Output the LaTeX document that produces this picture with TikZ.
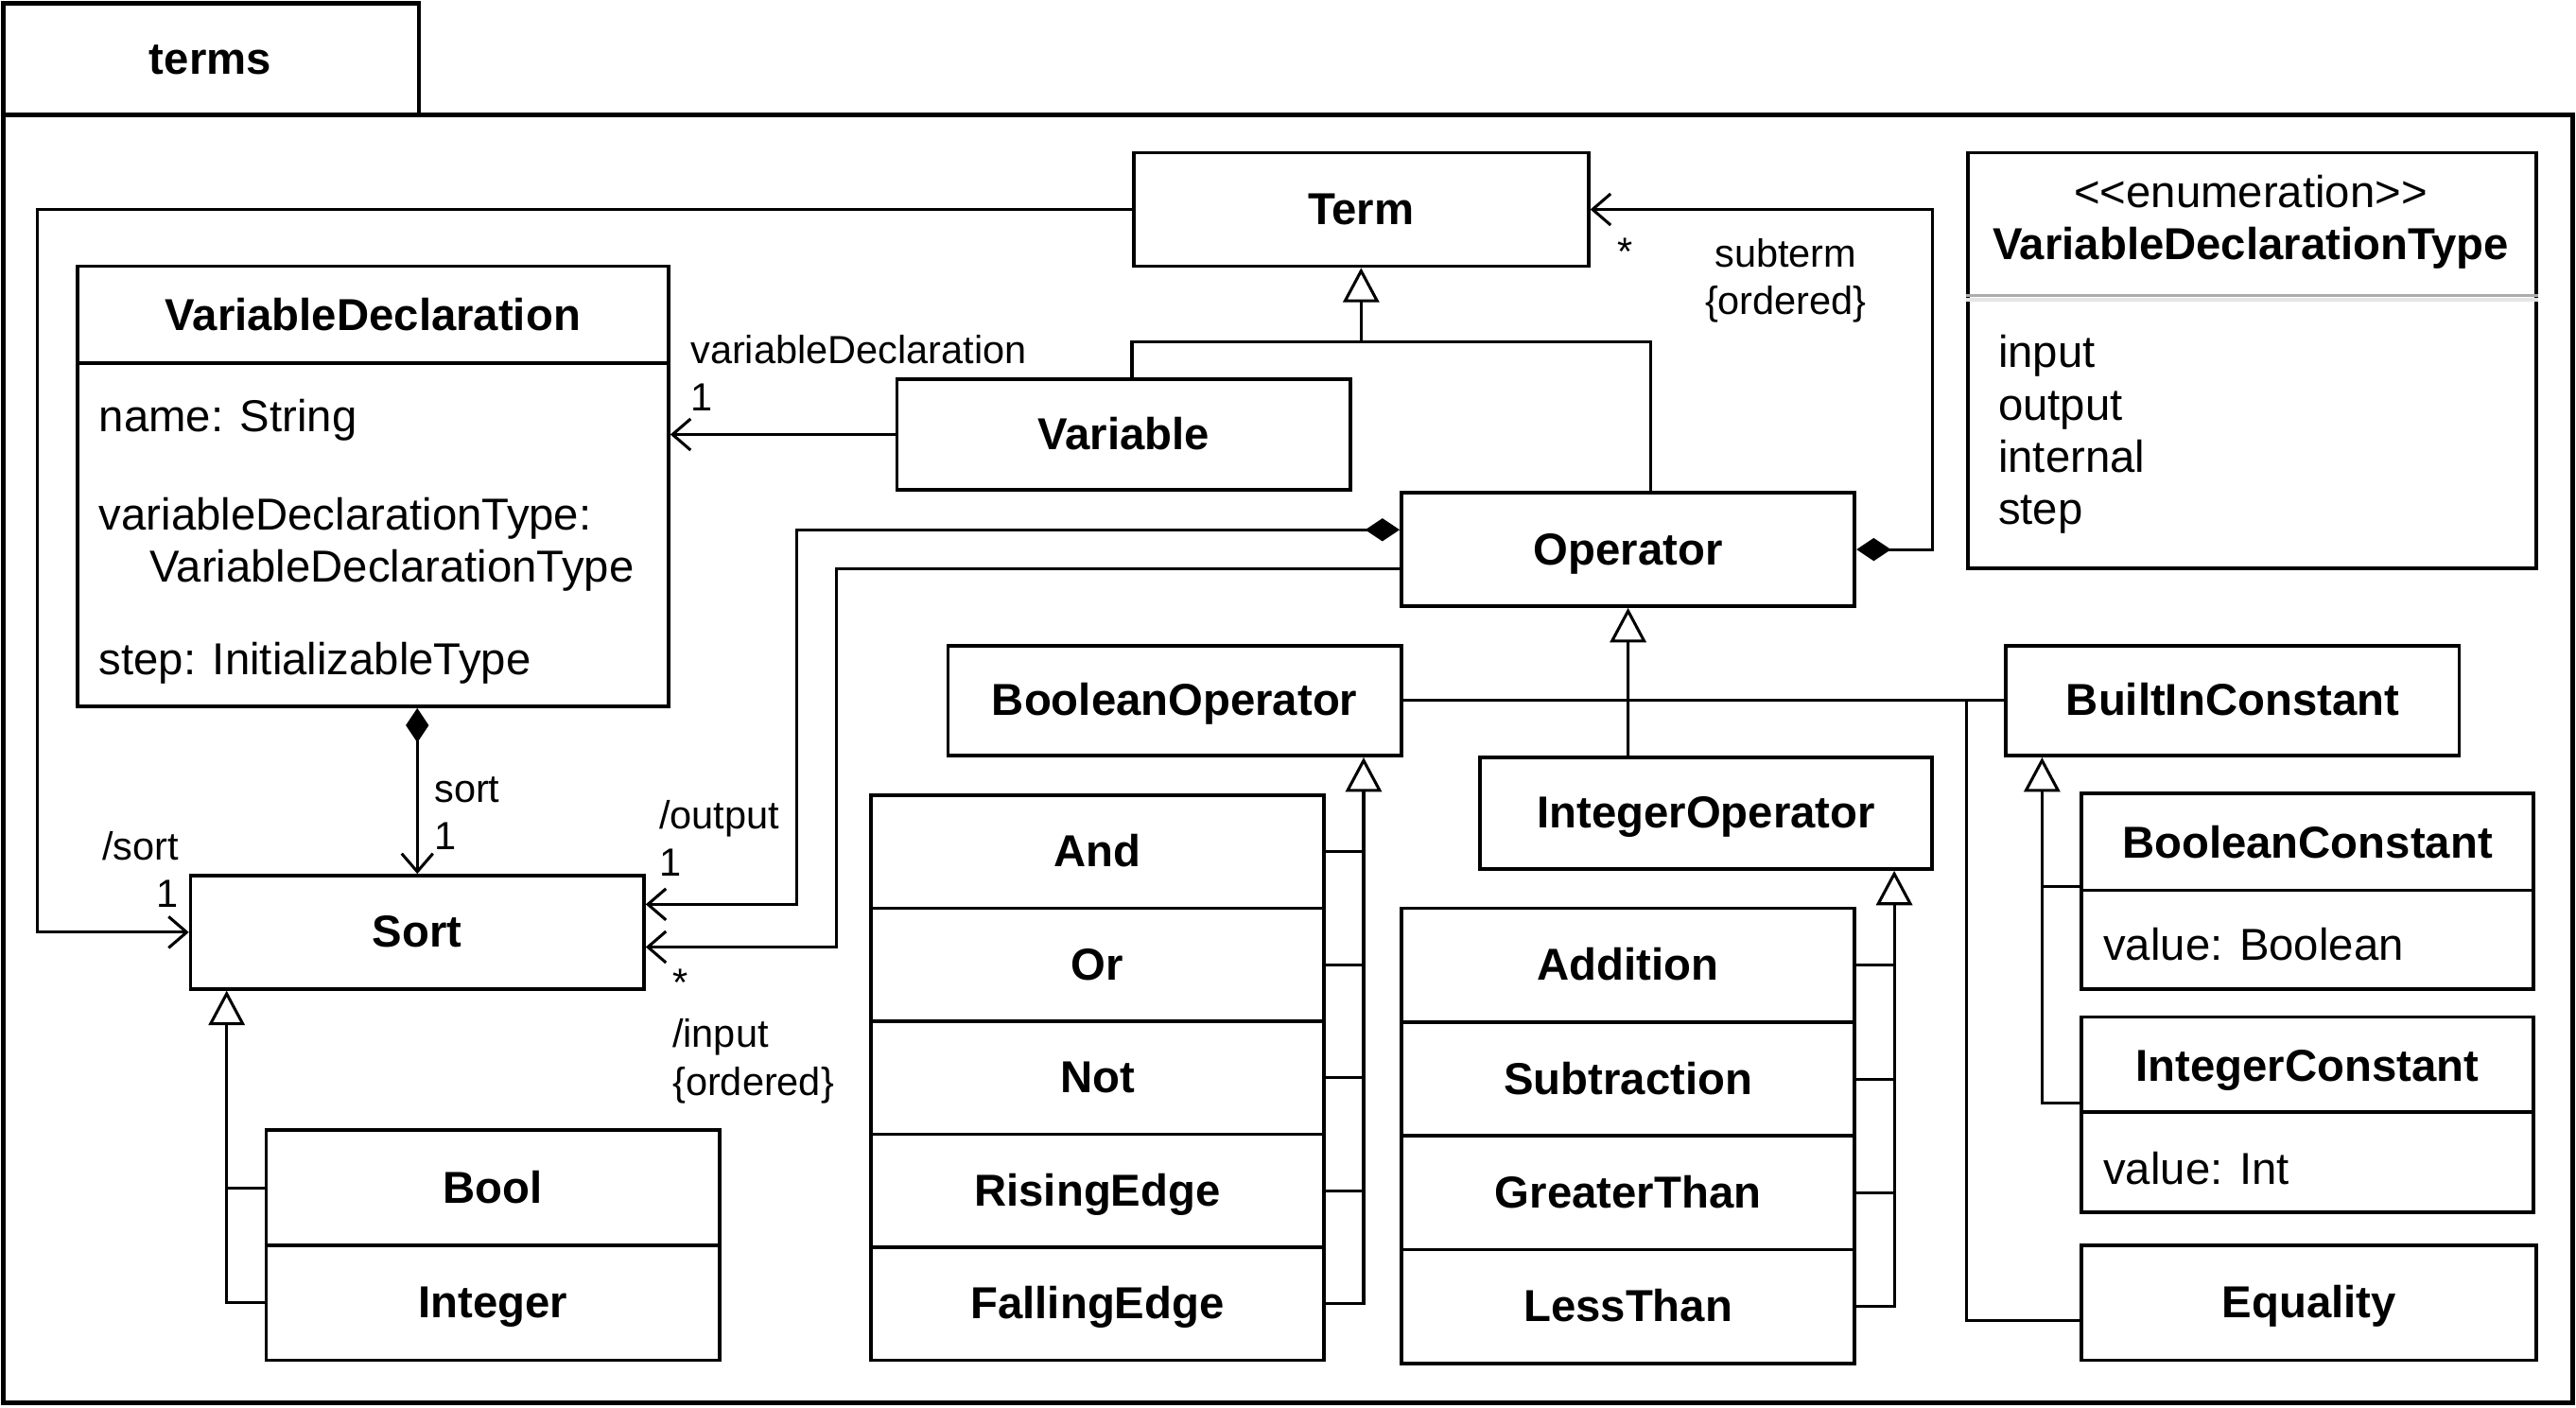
\documentclass[tikz,border=0pt]{standalone}
\usepackage{fontspec}
\setmainfont{Liberation Sans}
\usetikzlibrary{arrows.meta}

\begin{document}
\begin{tikzpicture}[
		x=0.02cm, y=-0.02cm,
		font=\fontsize{15.5pt}{18.1pt}\selectfont,
		cls/.style={draw, line width=1.2pt, fill=white, font=\fontsize{15.5pt}{18.1pt}\selectfont\bfseries, text height=13.6pt, text depth=3.1pt, minimum width=5.52cm, minimum height=1.36cm, inner sep=0pt},
		title/.style={font=\fontsize{15.5pt}{18.1pt}\selectfont\bfseries, text height=13.6pt, text depth=3.1pt},
		attr/.style={anchor=west, align=left, inner sep=0pt},
		lbl/.style={font=\fontsize{13.6pt}{16.4pt}\selectfont, inner sep=0pt},
		con/.style={line width=1pt},
		gen/.style={con, -{Triangle[open, fill=white, length=0.42cm, width=0.44cm]}},
		assoc/.style={con, -{Straight Barb[length=0.22cm, width=0.38cm]}},
		compo/.style={con, {Diamond[length=0.42cm, width=0.28cm]}-{Straight Barb[length=0.22cm, width=0.38cm]}}
	]
	\useasboundingbox (0,0) rectangle (1568,857);

	% package frame
	\draw[line width=1.5pt] (2,2) rectangle (255,70);
	\node[title] (pkgname) at (128,36) {terms};
	\draw[line width=1.5pt] (2,70) rectangle (1566,854);

	\node[cls, minimum width=5.54cm, minimum height=1.38cm] (term) at (828.5,127.5) {Term};
	\node[cls, minimum height=1.34cm] (variable) at (684,264.5) {Variable};
	\node[cls, minimum height=1.38cm] (operator) at (991,334.5) {Operator};

	% VariableDeclaration
	\node[cls, minimum width=7.2cm, minimum height=5.36cm] (vardecl) at (227,296) {};
	\node[title] (vardecltitle) at (227,192) {VariableDeclaration};
	\draw[line width=1.2pt] ([yshift=-1.2cm]vardecl.north west) -- ([yshift=-1.2cm]vardecl.north east);
	\node[attr] (vdname) at (60,255.5) {name: String};
	\node[attr] (vdtype) at (60,331.5) {variableDeclarationType:\\\hspace*{0.62cm}VariableDeclarationType};
	\node[attr] (vdstep) at (60,403.5) {step: InitializableType};

	% enumeration
	\node[cls, minimum width=6.92cm, minimum height=5.06cm] (vdtypeenum) at (1371,219.5) {};
	\node[align=center] (enumtitle) at (1370,135) {<\kern0pt<enumeration>\kern0pt>\\\textbf{VariableDeclarationType}};
	\draw[gray!20, line width=1.6pt] ([yshift=-1.81cm]vdtypeenum.north west) -- ([yshift=-1.81cm]vdtypeenum.north east);
	\draw[gray!65, line width=1.2pt] ([yshift=-1.76cm]vdtypeenum.north west) -- ([yshift=-1.76cm]vdtypeenum.north east);
	\node[attr] (enumitems) at (1216,264.5) {input\\output\\internal\\step};

	\node[cls, minimum height=1.34cm] (boolop) at (715,426.5) {BooleanOperator};
	\node[cls, minimum width=5.5cm] (intop) at (1038.5,495) {IntegerOperator};
	\node[cls, minimum height=1.34cm] (builtin) at (1359,426.5) {BuiltInConstant};
	\node[cls, minimum height=1.38cm] (sort) at (254,567.5) {Sort};
	\node[cls, minimum height=1.4cm] (bool) at (300,723) {Bool};
	\node[cls, minimum height=1.4cm] (integer) at (300,793) {Integer};

	\foreach \n/\t [count=\i from 0] in {and/And, or/Or, not/Not, risingedge/RisingEdge, fallingedge/FallingEdge}
		\node[cls, minimum height=1.376cm] (\n) at (668,518.4+68.8*\i) {\t};
	\foreach \n/\t [count=\i from 0] in {addition/Addition, subtraction/Subtraction, greaterthan/GreaterThan, lessthan/LessThan}
		\node[cls, minimum height=1.385cm] (\n) at (991,587.6+69.25*\i) {\t};

	% constants
	\node[cls, minimum width=5.5cm, minimum height=2.38cm] (boolconst) at (1404.5,542.5) {};
	\node[title] (boolconsttitle) at (1404.5,513) {BooleanConstant};
	\draw[line width=1.2pt] ([yshift=-1.2cm]boolconst.north west) -- ([yshift=-1.2cm]boolconst.north east);
	\node[attr] (boolconstvalue) at (1280,575) {value: Boolean};
	\node[cls, minimum width=5.5cm, minimum height=2.38cm] (intconst) at (1404.5,678.5) {};
	\node[title] (intconsttitle) at (1404.5,649) {IntegerConstant};
	\draw[line width=1.2pt] ([yshift=-1.18cm]intconst.north west) -- ([yshift=-1.18cm]intconst.north east);
	\node[attr] (intconstvalue) at (1280,711) {value: Int};
	\node[cls, minimum width=5.54cm, minimum height=1.4cm] (equality) at (1405.5,793) {Equality};

	% generalizations
	\draw[gen] ([xshift=0.1cm]variable.north) |- ([yshift=-0.9cm]term.south) -- (term.south);
	\draw[con] ([xshift=0.28cm]operator.north) |- ([yshift=-0.9cm]term.south);
	\draw[gen] ([xshift=-0.95cm]intop.north) -- (operator.south);
	\draw[con] (boolop.east) -- (builtin.west);
	\draw[con] ([yshift=-0.22cm]equality.west) -| ([xshift=-0.46cm]builtin.west);
	\draw[gen] (integer.west) -| ([xshift=0.46cm]sort.south west);
	\draw[con] (bool.west) -- ++(-0.46cm,0);
	\draw[gen] (fallingedge.east) -| ([xshift=-0.48cm]boolop.south east);
	\foreach \n in {and,or,not,risingedge}
		\draw[con] (\n.east) -- ++(0.46cm,0);
	\draw[gen] (lessthan.east) -| ([xshift=-0.48cm]intop.south east);
	\foreach \n in {addition,subtraction,greaterthan}
		\draw[con] (\n.east) -- ++(0.46cm,0);
	\draw[gen] ([yshift=0.14cm]intconst.west) -| ([xshift=0.46cm]builtin.south west);
	\draw[con] ([yshift=0.06cm]boolconst.west) -- ++(-0.46cm,0);

	% associations
	\draw[assoc] (variable.west) -- (variable.west -| vardecl.east);
	\draw[assoc] (term.west) -| ([xshift=-1.84cm]sort.west) -- (sort.west);
	\draw[compo] (operator.east) -- ++(0.92cm,0) |- (term.east);
	\draw[compo] ([yshift=0.24cm]operator.west) -| ([xshift=1.84cm,yshift=0.34cm]sort.east) -- ([yshift=0.34cm]sort.east);
	\draw[assoc] ([yshift=-0.24cm]operator.west) -| ([xshift=2.32cm,yshift=-0.18cm]sort.east) -- ([yshift=-0.18cm]sort.east);
	\draw[compo] (sort.north |- vardecl.south) -- (sort.north);

	% labels
	\node[lbl, anchor=west, align=left] (lblvardecl) at (420,227) {variableDeclaration\\1};
	\node[lbl, anchor=east, align=right] (lblsortderived) at (109,529) {/sort\\1};
	\node[lbl, anchor=west, align=left] (lblsort) at (264,495) {sort\\1};
	\node[lbl, anchor=west, align=left] (lbloutput) at (401,510) {/output\\1};
	\node[lbl, anchor=west] (lblinputmult) at (409,598) {*};
	\node[lbl, anchor=west, align=left] (lblinput) at (409,646) {/input\\\{ordered\}};
	\node[lbl, anchor=west] (lblsubtermmult) at (984,153) {*};
	\node[lbl, align=center] (lblsubterm) at (1087,171) {subterm\\\{ordered\}};
\end{tikzpicture}
\end{document}
